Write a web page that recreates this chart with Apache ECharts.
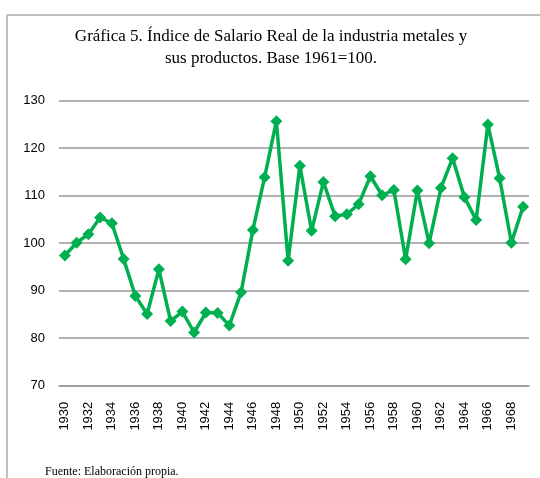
<!DOCTYPE html>
<html>
<head>
<meta charset="utf-8">
<script src="https://cdn.jsdelivr.net/npm/echarts@6/dist/echarts.min.js"></script>
<style>html,body{margin:0;padding:0;background:#fff}#c{width:540px;height:478px}</style>
</head>
<body>
<div id="c"></div>
<script>
const years = [];
for (let y = 1930; y <= 1969; y++) years.push(String(y));
const salarioReal = [
  97.4, 100.1, 101.9, 105.4, 104.2, 96.7, 88.9, 85.1, 94.5, 83.6,
  85.6, 81.2, 85.4, 85.3, 82.7, 89.7, 102.8, 113.9, 125.7, 96.3,
  116.3, 102.6, 112.9, 105.7, 106.1, 108.2, 114.1, 110.1, 111.2, 96.6,
  111.1, 100.0, 111.6, 117.9, 109.7, 104.9, 125.0, 113.7, 100.1, 107.7
];
const yTicks = [70, 80, 90, 100, 110, 120, 130];
const titleText = 'Gráfica 5. Índice de Salario Real de la industria metales y\nsus productos. Base 1961=100.';
const sourceText = 'Fuente: Elaboración propia.';

const chart = echarts.init(document.getElementById('c'));
chart.setOption({
  animation: false,
  backgroundColor: '#ffffff',
  title: {
    text: titleText,
    left: 266,
    textAlign: 'center',
    top: 21,
    textStyle: {
      fontFamily: 'Liberation Serif',
      fontWeight: 'normal',
      fontSize: 17,
      color: '#000',
      lineHeight: 22
    }
  },
  grid: { left: 59, right: 11, top: 100.7, bottom: 92.3, containLabel: false },
  xAxis: {
    type: 'category',
    data: years,
    boundaryGap: true,
    axisLine: { show: true, lineStyle: { color: '#999', width: 1.5 } },
    axisTick: { show: false },
    axisLabel: {
      interval: 1,
      rotate: 90,
      margin: 16,
      fontFamily: 'Liberation Sans',
      fontSize: 13,
      color: '#000'
    }
  },
  yAxis: {
    type: 'value',
    min: yTicks[0],
    max: yTicks[yTicks.length - 1],
    interval: 10,
    axisLine: { show: false },
    axisTick: { show: false },
    splitLine: { lineStyle: { color: '#999', width: 1.5 } },
    axisLabel: {
      margin: 14,
      fontFamily: 'Liberation Sans',
      fontSize: 13,
      color: '#000'
    }
  },
  series: [{
    type: 'line',
    data: salarioReal,
    symbol: 'diamond',
    symbolSize: 12,
    showSymbol: true,
    showAllSymbol: true,
    lineStyle: { color: '#00b050', width: 3.5 },
    itemStyle: { color: '#00b050' }
  }],
  graphic: [
    { type: 'line', shape: { x1: 7, y1: 15, x2: 540, y2: 15 }, style: { stroke: '#aaa', lineWidth: 1.5 } },
    { type: 'line', shape: { x1: 7, y1: 15, x2: 7, y2: 478 }, style: { stroke: '#aaa', lineWidth: 1.5 } },
    { type: 'text', left: 45, top: 466, style: { text: sourceText, font: '12px "Liberation Serif"', fill: '#000' } }
  ]
});
</script>
</body>
</html>
